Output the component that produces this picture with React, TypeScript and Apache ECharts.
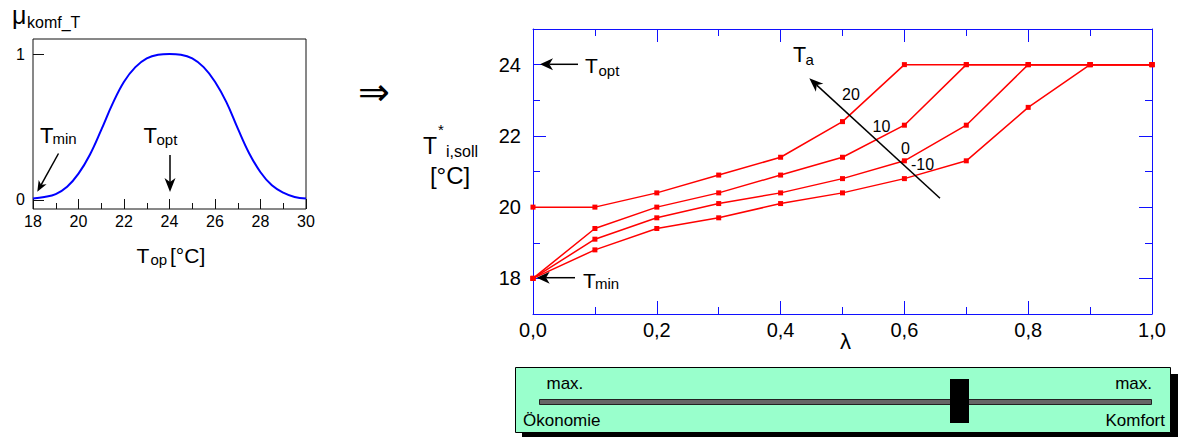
import React, { useEffect, useRef } from "react";
import * as echarts from "echarts";

const FONT = '"Liberation Sans", Arial, Helvetica, sans-serif';

// ---- Left chart: comfort membership function ----
const topValues = [18, 18.5, 19, 19.5, 20, 20.5, 21, 21.5, 22, 22.5, 23, 23.5, 24, 24.5, 25, 25.5, 26, 26.5, 27, 27.5, 28, 28.5, 29, 29.5, 30];
const muKomf = [0.01, 0.02, 0.04, 0.09, 0.18, 0.31, 0.48, 0.66, 0.81, 0.91, 0.97, 0.995, 1.0, 0.995, 0.97, 0.91, 0.81, 0.67, 0.49, 0.32, 0.19, 0.1, 0.05, 0.02, 0.01];
const leftYTicks = [0, 1];

// ---- Right chart: set temperature vs lambda ----
const lambdaValues = [0, 0.1, 0.2, 0.3, 0.4, 0.5, 0.6, 0.7, 0.8, 0.9, 1.0];
const tSoll20 = [20, 20, 20.4, 20.9, 21.4, 22.4, 24, 24, 24, 24, 24];
const tSoll10 = [18, 19.4, 20.0, 20.4, 20.9, 21.4, 22.3, 24, 24, 24, 24];
const tSoll0 = [18, 19.1, 19.7, 20.1, 20.4, 20.8, 21.3, 22.3, 24, 24, 24];
const tSollM10 = [18, 18.8, 19.4, 19.7, 20.1, 20.4, 20.8, 21.3, 22.8, 24, 24];
const taNames = ["20", "10", "0", "-10"];
const rightYTicks = [18, 20, 22, 24];

const BLUE = "#1010ff";

function txt(text: string, x: number, baseline: number, fs: number, align = "left", family = FONT) {
  return {
    type: "text",
    x,
    y: baseline - 0.35 * fs,
    silent: true,
    z: 100,
    style: { text, fontSize: fs, fontFamily: family, fill: "#000", align, verticalAlign: "middle" },
  };
}

function arrow(x1: number, y1: number, x2: number, y2: number, len: number, w: number, lw = 1.5) {
  const dx = x2 - x1, dy = y2 - y1;
  const d = Math.hypot(dx, dy);
  const ux = dx / d, uy = dy / d;
  const px = -uy, py = ux;
  const bx = x2 - ux * len, by = y2 - uy * len;
  const nx = x2 - ux * len * 0.72, ny = y2 - uy * len * 0.72;
  return [
    { type: "line", z: 100, silent: true, shape: { x1, y1, x2: nx, y2: ny }, style: { stroke: "#000", lineWidth: lw } },
    {
      type: "polygon",
      z: 100,
      silent: true,
      shape: { points: [[x2, y2], [bx + (px * w) / 2, by + (py * w) / 2], [nx, ny], [bx - (px * w) / 2, by - (py * w) / 2]] },
      style: { fill: "#000" },
    },
  ];
}

export default function App() {
  const ref = useRef<HTMLDivElement>(null);
  useEffect(() => {
    if (!ref.current) return;
    const chart = echarts.init(ref.current, undefined, { renderer: "svg" });
    const fmtLambda = (v: number) => {
      const r = Math.round(v * 10);
      return r % 2 === 0 ? (r / 10).toFixed(1).replace(".", ",") : "";
    };
    const tSeries = [tSoll20, tSoll10, tSoll0, tSollM10];
    const option: any = {
      animation: false,
      backgroundColor: "#fff",
      grid: [
        { left: 33, top: 39, width: 273, height: 170, show: true, borderColor: "#111", borderWidth: 1, backgroundColor: "transparent" },
        { left: 533, top: 29, width: 619, height: 285, show: false },
      ],
      xAxis: [
        {
          gridIndex: 0, type: "value", min: 18, max: 30, interval: 2, position: "bottom",
          axisLine: { show: false, onZero: false },
          axisTick: { show: true, inside: true, length: 10, lineStyle: { color: "#111" } },
          minorTick: { show: true, splitNumber: 2, length: 6, lineStyle: { color: "#111" } },
          axisLabel: { fontSize: 16, color: "#000", fontFamily: FONT, margin: 4 },
          splitLine: { show: false },
        },
        {
          gridIndex: 1, type: "value", min: 0, max: 1, interval: 0.2, position: "bottom",
          axisLine: { show: true, onZero: false, lineStyle: { color: BLUE, width: 1 } },
          axisTick: { show: true, inside: true, length: 13, lineStyle: { color: BLUE } },
          minorTick: { show: true, splitNumber: 2, length: 7, lineStyle: { color: BLUE } },
          axisLabel: { fontSize: 20, color: "#000", fontFamily: FONT, margin: 6, formatter: fmtLambda },
          splitLine: { show: false },
        },
        {
          gridIndex: 1, type: "value", min: 0, max: 1, interval: 0.2, position: "top",
          axisLine: { show: true, onZero: false, lineStyle: { color: BLUE, width: 1 } },
          axisTick: { show: true, inside: true, length: 13, lineStyle: { color: BLUE } },
          minorTick: { show: true, splitNumber: 2, length: 7, lineStyle: { color: BLUE } },
          axisLabel: { show: false },
          splitLine: { show: false },
        },
      ],
      yAxis: [
        {
          gridIndex: 0, type: "value", min: -0.062, max: 1.103, position: "left",
          axisLine: { show: false, onZero: false },
          axisTick: { show: true, inside: true, length: 11, customValues: leftYTicks, lineStyle: { color: "#111" } },
          axisLabel: { fontSize: 16, color: "#000", fontFamily: FONT, margin: 8, customValues: leftYTicks },
          splitLine: { show: false },
        },
        {
          gridIndex: 1, type: "value", min: 17, max: 25, interval: 1, position: "left",
          axisLine: { show: true, onZero: false, lineStyle: { color: BLUE, width: 1 } },
          axisTick: { show: true, inside: true, length: 7, lineStyle: { color: BLUE } },
          axisLabel: { fontSize: 20, color: "#000", fontFamily: FONT, margin: 12, formatter: (v: number) => (rightYTicks.includes(v) ? String(v) : "") },
          splitLine: { show: false },
        },
        {
          gridIndex: 1, type: "value", min: 17, max: 25, position: "left",
          axisLine: { show: false, onZero: false },
          axisTick: { show: true, inside: true, length: 13, customValues: rightYTicks, lineStyle: { color: BLUE } },
          axisLabel: { show: false },
          splitLine: { show: false },
        },
        {
          gridIndex: 1, type: "value", min: 17, max: 25, interval: 1, position: "right",
          axisLine: { show: true, onZero: false, lineStyle: { color: BLUE, width: 1 } },
          axisTick: { show: true, inside: true, length: 7, lineStyle: { color: BLUE } },
          axisLabel: { show: false },
          splitLine: { show: false },
        },
        {
          gridIndex: 1, type: "value", min: 17, max: 25, position: "right",
          axisLine: { show: false, onZero: false },
          axisTick: { show: true, inside: true, length: 13, customValues: rightYTicks, lineStyle: { color: BLUE } },
          axisLabel: { show: false },
          splitLine: { show: false },
        },
      ],
      series: [
        {
          type: "line", xAxisIndex: 0, yAxisIndex: 0, smooth: 0.4, showSymbol: false, symbol: "none",
          data: topValues.map((t, i) => [t, muKomf[i]]),
          lineStyle: { color: "#0000ff", width: 2 },
          clip: false,
        },
        ...tSeries.map((vals, k) => ({
          type: "line", name: taNames[k], xAxisIndex: 1, yAxisIndex: 1,
          data: lambdaValues.map((l, i) => [l, vals[i]]),
          symbol: "rect", symbolSize: 5, showSymbol: true,
          itemStyle: { color: "#ff0000" },
          lineStyle: { color: "#ff0000", width: 1.5 },
          clip: false,
          z: 3,
        })),
      ],
      graphic: [
        // left chart labels
        txt("μ", 12, 24, 25),
        txt("komf_T", 27, 28.5, 16),
        txt("T", 40, 143, 22),
        txt("min", 52.5, 143.5, 15),
        ...arrow(58.5, 153.5, 37.3, 191.7, 11, 9),
        txt("T", 143.5, 143, 22),
        txt("opt", 156.5, 145, 15),
        ...arrow(170, 155, 170, 192, 14, 11),
        txt("T", 136.5, 263, 21),
        txt("op", 150.5, 265, 15),
        txt("[°C]", 170, 263, 21),
        // implication arrow
        txt("⇒", 358, 105, 38, "left", '"DejaVu Sans", sans-serif'),
        // right chart y name
        txt("T", 423, 154.3, 23),
        txt("*", 438, 135, 15),
        txt("i,soll", 446, 157.3, 16),
        txt("[°C]", 450, 184, 24, "center"),
        // right chart annotations
        ...arrow(578, 64.3, 540, 64.3, 13, 12),
        txt("T", 585, 73.3, 21),
        txt("opt", 598.5, 75.7, 15),
        ...arrow(575, 277.7, 536.7, 277.7, 13, 12),
        txt("T", 583, 287.5, 21),
        txt("min", 595, 289, 15),
        txt("T", 793, 62.7, 21.5),
        txt("a", 805.5, 64.5, 15),
        ...arrow(940, 198.3, 809.3, 78.3, 14, 11),
        txt(taNames[0], 851, 100, 16, "center"),
        txt(taNames[1], 881.5, 131.7, 16, "center"),
        txt(taNames[2], 905.5, 154.3, 16, "center"),
        txt(taNames[3], 922.5, 170, 16, "center"),
        txt("λ", 845.5, 349, 22, "center"),
        // slider
        { type: "rect", silent: true, shape: { x: 522, y: 374, width: 656, height: 70 }, style: { fill: "#000" } },
        { type: "rect", silent: true, shape: { x: 515.5, y: 367.5, width: 655, height: 65 }, style: { fill: "#99ffcc", stroke: "#000", lineWidth: 1 } },
        { type: "rect", silent: true, shape: { x: 539.5, y: 399.5, width: 612, height: 5 }, style: { fill: "#666666", stroke: "#222", lineWidth: 1 } },
        { type: "rect", silent: true, shape: { x: 950, y: 379, width: 19, height: 44 }, style: { fill: "#000" } },
        txt("max.", 546.5, 389.3, 17),
        txt("max.", 1152, 389.3, 17, "right"),
        txt("Ökonomie", 523, 426.7, 17),
        txt("Komfort", 1165, 426.7, 17, "right"),
      ],
    };
    chart.setOption(option);
    return () => chart.dispose();
  }, []);
  return <div ref={ref} style={{ position: "absolute", left: 0, top: 0, width: 1182, height: 437 }} />;
}
